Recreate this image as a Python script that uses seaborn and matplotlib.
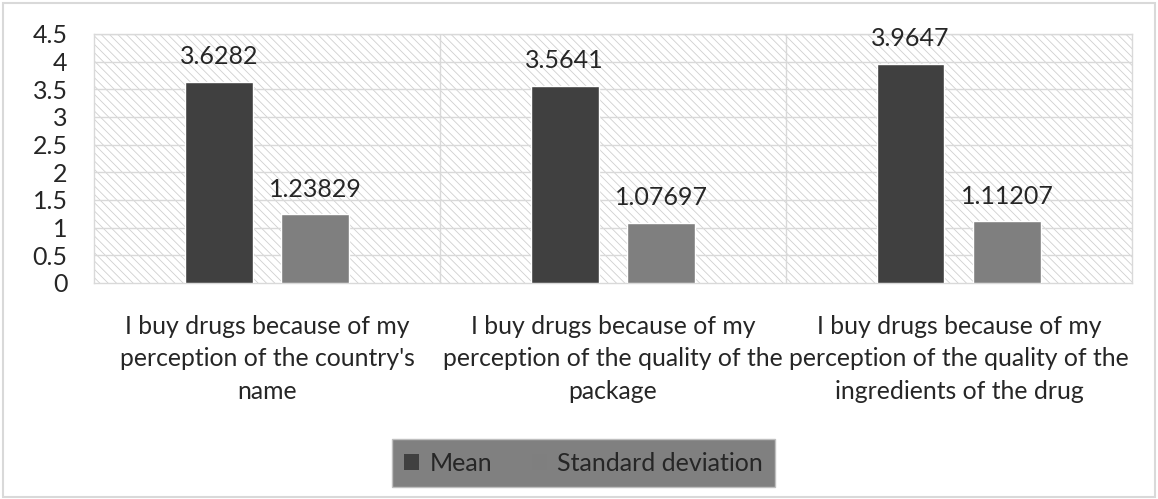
import pandas as pd
import matplotlib.pyplot as plt
import seaborn as sns
from matplotlib.patches import Rectangle

# data
questions = [
    "I buy drugs because of my\nperception of the country's\nname",
    "I buy drugs because of my\nperception of the quality of the\npackage",
    "I buy drugs because of my\nperception of the quality of the\ningredients of the drug",
]
mean_vals = [3.6282, 3.5641, 3.9647]
sd_vals = [1.23829, 1.07697, 1.11207]
mean_txt = ["3.6282", "3.5641", "3.9647"]
sd_txt = ["1.23829", "1.07697", "1.11207"]
y_ticks = [0, 0.5, 1, 1.5, 2, 2.5, 3, 3.5, 4, 4.5]
y_tick_labels = ["0", "0.5", "1", "1.5", "2", "2.5", "3", "3.5", "4", "4.5"]

df = pd.DataFrame({
    "question": questions * 2,
    "value": mean_vals + sd_vals,
    "stat": ["Mean"] * 3 + ["Standard deviation"] * 3,
})

sns.set_style("white")
plt.rcParams['font.family'] = ['Lato', 'DejaVu Sans']
plt.rcParams['hatch.linewidth'] = 0.6
plt.rcParams['hatch.color'] = '#d0d0d0'

fig = plt.figure(figsize=(11.58, 4.99), dpi=100)
ax = fig.add_axes([0.0812, 0.433, 0.8963, 0.499])

# hatched plot background
ax.add_patch(Rectangle((0, 0), 1, 1, transform=ax.transAxes, facecolor='white',
                       edgecolor='#d0d0d0', hatch='\\\\\\\\', lw=0, zorder=0))

sns.barplot(data=df, x="question", y="value", hue="stat",
            palette=["#404040", "#7f7f7f"], width=0.558, gap=0.30,
            saturation=1, ax=ax, legend=True, zorder=3)

ax.bar_label(ax.containers[0], labels=mean_txt, padding=10, fontsize=18, color='#262626')
ax.bar_label(ax.containers[1], labels=sd_txt, padding=10, fontsize=18, color='#262626')

ax.set_xlim(-0.5, 2.5)
ax.set_ylim(0, 4.5)
ax.set_yticks(y_ticks)
ax.set_yticklabels(y_tick_labels, fontsize=18, color='#262626')
ax.set_xticklabels(questions, fontsize=17.8, color='#262626', linespacing=1.5)
ax.tick_params(axis='both', length=0)
ax.tick_params(axis='y', pad=19)
ax.tick_params(axis='x', pad=23)
ax.set_xlabel("")
ax.set_ylabel("")

for yv in y_ticks[1:]:
    ax.axhline(yv, color='#d9d9d9', lw=1, zorder=1)
for xv in [0.5, 1.5]:
    ax.axvline(xv, color='#d9d9d9', lw=1, zorder=1)
for s in ax.spines.values():
    s.set_color('#d9d9d9')
    s.set_linewidth(1)

handles, labels = ax.get_legend_handles_labels()
ax.get_legend().remove()
for h, c in zip(handles, ["#404040", "#7f7f7f"]):
    h.set_edgecolor(c)
    h.set_linewidth(0)
leg = fig.legend(handles, labels, loc='center', bbox_to_anchor=(0.504, 0.072), ncol=2,
                 fontsize=18, frameon=True, fancybox=False, facecolor='#808080',
                 edgecolor='#bfbfbf', handlelength=0.6, handleheight=0.6,
                 columnspacing=1.6, borderpad=0.5, handletextpad=0.4,
                 borderaxespad=0)
leg.get_frame().set_alpha(1)
for t in leg.get_texts():
    t.set_color('#262626')

# outer chart border
fig.patches.append(Rectangle((0.003, 0.004), 0.994, 0.99, transform=fig.transFigure,
                             fill=False, edgecolor='#d9d9d9', lw=1.5))

fig.savefig("out.png", dpi=100)
